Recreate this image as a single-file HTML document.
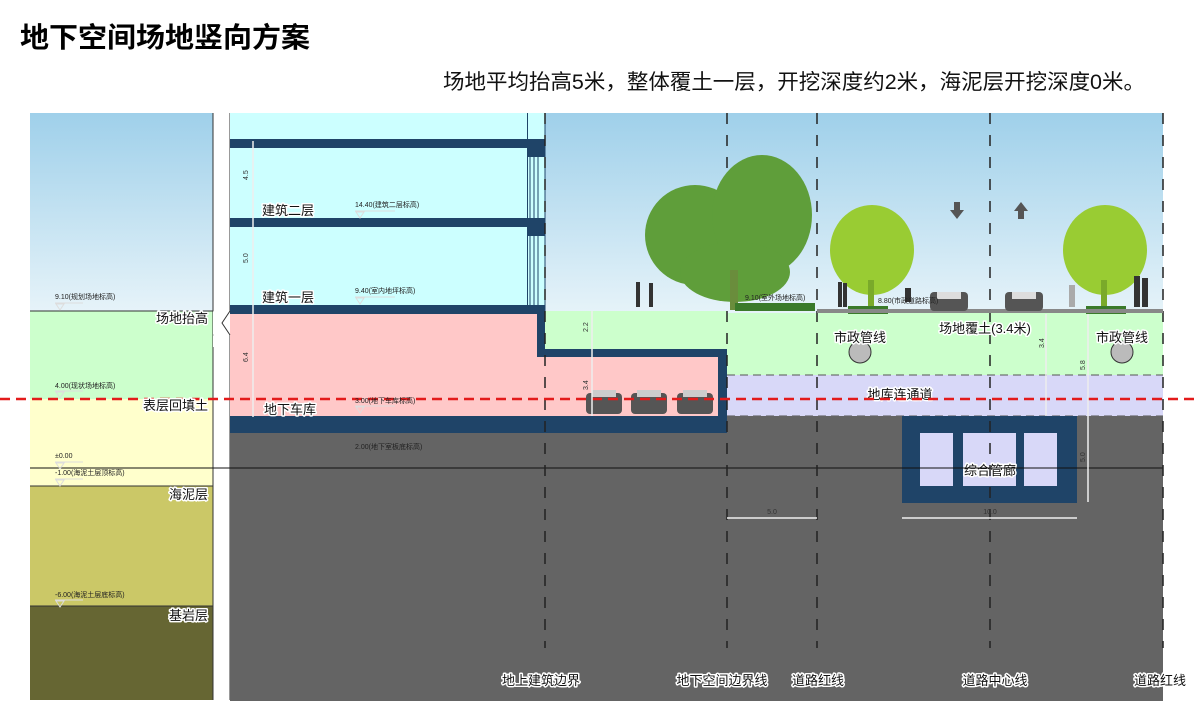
<!DOCTYPE html>
<html><head><meta charset="utf-8"><style>
body{margin:0;background:#fff;width:1200px;height:717px;overflow:hidden}
svg{display:block}
.t{font-family:"Liberation Sans","Noto Sans CJK SC",sans-serif}
.lb{font-family:"Liberation Sans","Noto Sans CJK SC",sans-serif;font-size:13px;fill:#111;stroke:#fff;stroke-width:3px;paint-order:stroke;stroke-linejoin:round}
.sm{font-family:"Liberation Sans","Noto Sans CJK SC",sans-serif;font-size:7px;fill:#222}
.dim{font-family:"Liberation Sans",sans-serif;font-size:7px;fill:#333}
</style></head><body>
<svg width="1200" height="717" viewBox="0 0 1200 717" xmlns="http://www.w3.org/2000/svg">
<defs>
<linearGradient id="sky" x1="0" y1="0" x2="0" y2="1"><stop offset="0" stop-color="#9fd0ea"/><stop offset="1" stop-color="#e6f3f9"/></linearGradient>
</defs>
<text x="20" y="47" class="t" font-size="28" font-weight="bold" fill="#000" textLength="290" lengthAdjust="spacingAndGlyphs">地下空间场地竖向方案</text>
<text x="443" y="89" class="t" font-size="21" fill="#111" textLength="702" lengthAdjust="spacingAndGlyphs">场地平均抬高5米，整体覆土一层，开挖深度约2米，海泥层开挖深度0米。</text>

<!-- left column -->
<rect x="30" y="113" width="183" height="198" fill="url(#sky)"/>
<rect x="30" y="311" width="183" height="88" fill="#ccffcc"/>
<rect x="30" y="399" width="183" height="87" fill="#ffffcc"/>
<rect x="30" y="486" width="183" height="120" fill="#cbc867"/>
<rect x="30" y="606" width="183" height="94" fill="#666633"/>
<g stroke="#333" stroke-width="1"><line x1="30" y1="311" x2="213" y2="311"/><line x1="30" y1="486" x2="213" y2="486"/><line x1="30" y1="606" x2="213" y2="606"/><line x1="213" y1="113" x2="213" y2="700"/><line x1="230" y1="113" x2="230" y2="700"/></g>

<!-- right sky -->
<rect x="545" y="113" width="618" height="200" fill="url(#sky)"/>
<!-- building -->
<rect x="230" y="113" width="315" height="198" fill="#ccffff"/>
<g fill="#1f4468">
<rect x="230" y="139" width="315" height="9"/>
<rect x="230" y="218" width="315" height="9"/>
<rect x="230" y="305" width="315" height="9"/>
<rect x="527" y="113" width="1" height="200"/>
<rect x="527" y="139" width="18" height="18"/>
<rect x="527" y="218" width="18" height="18"/>
</g>
<g stroke="#1f4468" stroke-width="1"><line x1="530" y1="157" x2="530" y2="218"/><line x1="534" y1="157" x2="534" y2="218"/><line x1="538" y1="157" x2="538" y2="218"/><line x1="530" y1="236" x2="530" y2="305"/><line x1="534" y1="236" x2="534" y2="305"/><line x1="538" y1="236" x2="538" y2="305"/><line x1="545" y1="113" x2="545" y2="311"/></g>

<!-- green soil right -->
<rect x="545" y="311" width="182" height="40" fill="#ccffcc"/>
<rect x="727" y="313" width="436" height="62" fill="#ccffcc"/>
<rect x="727" y="375" width="436" height="41" fill="#d8d8f8"/>
<line x1="727" y1="375" x2="1163" y2="375" stroke="#555" stroke-dasharray="8,5"/>
<line x1="727" y1="416" x2="1163" y2="416" stroke="#555" stroke-dasharray="8,5"/>
<!-- gray ground -->
<rect x="230" y="433" width="933" height="268" fill="#646464"/>
<rect x="727" y="416" width="436" height="17" fill="#646464"/>
<!-- basement -->
<rect x="230" y="314" width="315" height="102" fill="#ffc8c8"/>
<rect x="545" y="357" width="173" height="59" fill="#ffc8c8"/>
<g fill="#1f4468">
<rect x="537" y="311" width="8" height="46"/>
<rect x="537" y="349" width="190" height="8"/>
<rect x="718" y="349" width="9" height="84"/>
<rect x="230" y="416" width="497" height="17"/>
</g>
<!-- utility tunnel -->
<rect x="902" y="416" width="175" height="87" fill="#1f4468"/>
<rect x="920" y="433" width="33" height="53" fill="#d8d8f8"/>
<rect x="963" y="433" width="53" height="53" fill="#d8d8f8"/>
<rect x="1024" y="433" width="33" height="53" fill="#d8d8f8"/>
<text x="990" y="475" text-anchor="middle" class="lb">综合管廊</text>

<!-- black line -->
<line x1="30" y1="468" x2="1163" y2="468" stroke="#111" stroke-width="1"/>
<!-- dashed verticals -->
<g stroke="#222" stroke-width="1.5" stroke-dasharray="11,11">
<line x1="545" y1="113" x2="545" y2="648"/>
<line x1="727" y1="113" x2="727" y2="648"/>
<line x1="817" y1="113" x2="817" y2="648"/>
<line x1="990" y1="113" x2="990" y2="648"/>
<line x1="1163" y1="113" x2="1163" y2="648"/>
</g>

<!-- trees -->
<g fill="#5f9e3a">
<ellipse cx="695" cy="235" rx="50" ry="50"/><ellipse cx="762" cy="215" rx="50" ry="60"/><ellipse cx="735" cy="272" rx="55" ry="30"/>
</g>
<rect x="730" y="270" width="8" height="40" fill="#6a8d3c"/>
<g fill="#99cc33">
<ellipse cx="872" cy="250" rx="42" ry="45"/><ellipse cx="1105" cy="250" rx="42" ry="45"/>
</g>
<rect x="868" y="280" width="6" height="30" fill="#7aaa2a"/><rect x="1101" y="280" width="6" height="30" fill="#7aaa2a"/>
<rect x="735" y="303" width="80" height="8" fill="#3a7a2a"/>
<rect x="848" y="306" width="40" height="8" fill="#3a7a2a"/>
<rect x="1086" y="306" width="40" height="8" fill="#3a7a2a"/>
<rect x="817" y="309" width="346" height="4" fill="#888"/>
<!-- arrows -->
<path d="M954 202h6v8h4l-7 9-7-9h4z" fill="#555"/>
<path d="M1018 219h6v-8h4l-7-9-7 9h4z" fill="#555"/>
<!-- people -->
<g fill="#333"><rect x="636" y="282" width="4" height="25"/><rect x="649" y="283" width="4" height="24"/><rect x="838" y="282" width="4" height="25"/><rect x="843" y="283" width="4" height="24"/><rect x="1134" y="276" width="6" height="31"/><rect x="1142" y="278" width="6" height="29"/><rect x="905" y="288" width="6" height="14"/></g>
<rect x="1069" y="285" width="6" height="22" fill="#aaa"/>
<!-- cars -->
<g fill="#555"><rect x="930" y="292" width="38" height="19" rx="4"/><rect x="1005" y="292" width="38" height="19" rx="4"/></g>
<g fill="#ddd"><rect x="937" y="292" width="24" height="7"/><rect x="1012" y="292" width="24" height="7"/></g>
<g fill="#555"><rect x="586" y="393" width="36" height="21" rx="4"/><rect x="631" y="393" width="36" height="21" rx="4"/><rect x="677" y="393" width="36" height="21" rx="4"/></g>
<g fill="#ccc"><rect x="592" y="390" width="24" height="7"/><rect x="637" y="390" width="24" height="7"/><rect x="683" y="390" width="24" height="7"/></g>
<!-- pipes -->
<circle cx="860" cy="352" r="11" fill="#bbb" stroke="#333"/>
<circle cx="1122" cy="352" r="11" fill="#bbb" stroke="#333"/>
<text x="860" y="342" text-anchor="middle" class="lb">市政管线</text>
<text x="1122" y="342" text-anchor="middle" class="lb">市政管线</text>
<text x="985" y="333" text-anchor="middle" class="lb">场地覆土(3.4米)</text>
<text x="900" y="399" text-anchor="middle" class="lb">地库连通道</text>

<!-- red dashed line -->
<line x1="0" y1="399" x2="1200" y2="399" stroke="#e31b1b" stroke-width="2.5" stroke-dasharray="10,6"/>

<!-- dimension lines -->
<g stroke="#eee" stroke-width="1.5" fill="none">
<line x1="253" y1="141" x2="253" y2="417"/>
<line x1="592" y1="311" x2="592" y2="416"/>
<line x1="1046" y1="314" x2="1046" y2="416"/>
<line x1="1088" y1="314" x2="1088" y2="502"/>
<line x1="727" y1="518" x2="817" y2="518"/>
<line x1="902" y1="518" x2="1077" y2="518"/>
</g>
<text x="248" y="180" class="dim" transform="rotate(-90 248 180)">4.5</text>
<text x="248" y="263" class="dim" transform="rotate(-90 248 263)">5.0</text>
<text x="248" y="362" class="dim" transform="rotate(-90 248 362)">6.4</text>
<text x="588" y="332" class="dim" transform="rotate(-90 588 332)">2.2</text>
<text x="588" y="390" class="dim" transform="rotate(-90 588 390)">3.4</text>
<text x="1044" y="348" class="dim" transform="rotate(-90 1044 348)">3.4</text>
<text x="1085" y="370" class="dim" transform="rotate(-90 1085 370)">5.8</text>
<text x="1085" y="462" class="dim" transform="rotate(-90 1085 462)">5.0</text>
<text x="772" y="514" class="dim" text-anchor="middle" fill="#eee">5.0</text>
<text x="990" y="514" class="dim" text-anchor="middle" fill="#eee">10.0</text>

<!-- elevation marks -->
<g stroke="#ddd" stroke-width="1" fill="none">
<path d="M55 303h28M56 304l4 6 4-6z"/><path d="M55 391h28M56 392l4 6 4-6z"/><path d="M55 462h28M56 463l4 6 4-6z"/><path d="M55 479h28M56 480l4 6 4-6z"/><path d="M55 600h28M56 601l4 6 4-6z"/>
<path d="M355 211h40M356 212l4 6 4-6z"/><path d="M355 297h40M356 298l4 6 4-6z"/><path d="M355 406h40M356 407l4 6 4-6z"/>
</g>
<text x="55" y="299" class="sm">9.10(规划场地标高)</text>
<text x="55" y="388" class="sm">4.00(现状场地标高)</text>
<text x="55" y="458" class="sm">±0.00</text>
<text x="55" y="475" class="sm">-1.00(海泥土层顶标高)</text>
<text x="55" y="597" class="sm">-6.00(海泥土层底标高)</text>
<text x="355" y="207" class="sm">14.40(建筑二层标高)</text>
<text x="355" y="293" class="sm">9.40(室内地坪标高)</text>
<text x="355" y="403" class="sm">3.00(地下车库标高)</text>
<text x="355" y="449" class="sm" fill="#eee">2.00(地下室板底标高)</text>
<text x="745" y="300" class="sm">9.10(室外场地标高)</text>
<text x="878" y="303" class="sm">8.80(市政道路标高)</text>

<!-- labels -->
<text x="262" y="215" class="lb">建筑二层</text>
<text x="262" y="302" class="lb">建筑一层</text>
<text x="264" y="414" class="lb">地下车库</text>
<text x="208" y="323" text-anchor="end" class="lb">场地抬高</text>
<text x="208" y="410" text-anchor="end" class="lb">表层回填土</text>
<text x="208" y="499" text-anchor="end" class="lb">海泥层</text>
<text x="208" y="620" text-anchor="end" class="lb">基岩层</text>
<path d="M213 311l8 12-8 12 8 12 -8 0" fill="#fff" stroke="none"/>
<path d="M230 311l-8 12 8 12" fill="#fff" stroke="#333"/>

<text x="541" y="685" text-anchor="middle" class="lb">地上建筑边界</text>
<text x="722" y="685" text-anchor="middle" class="lb">地下空间边界线</text>
<text x="818" y="685" text-anchor="middle" class="lb">道路红线</text>
<text x="995" y="685" text-anchor="middle" class="lb">道路中心线</text>
<text x="1160" y="685" text-anchor="middle" class="lb">道路红线</text>
</svg>
</body></html>
